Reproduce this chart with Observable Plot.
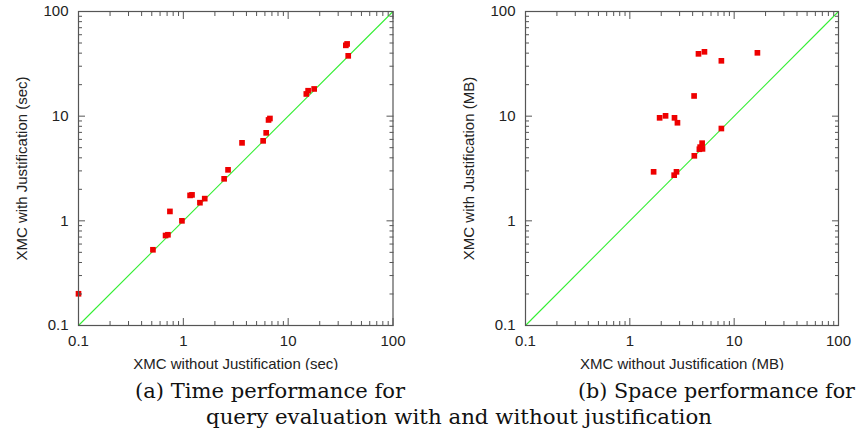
<!DOCTYPE html>
<html><head><meta charset="utf-8">
<script src="https://cdn.jsdelivr.net/npm/d3@7"></script>
<script src="https://cdn.jsdelivr.net/npm/@observablehq/plot@0.6"></script>
<style>
body{margin:0;background:#fff;width:858px;height:432px;position:relative;overflow:hidden}
#a,#b{position:absolute;top:0}
#a{left:0}
#b{left:429px}
.cap{position:absolute;font-family:"DejaVu Serif",serif;font-size:21px;white-space:nowrap;color:#111;line-height:1;transform-origin:0 0}
</style></head><body>
<div id="a"></div><div id="b"></div>
<div class="cap" id="c1" style="left:135px;top:381px">(a) Time performance for</div>
<div class="cap" id="c2" style="left:578px;top:381px">(b) Space performance for</div>
<div class="cap" id="c3" style="left:206px;top:407px">query evaluation with and without justification</div>
<script>
// Time performance (seconds)
const timeX = [0.1, 0.513, 0.677, 0.713, 0.745, 0.97, 1.16, 1.21, 1.44, 1.60, 2.45, 2.67, 3.63, 5.77, 6.17, 6.5, 6.7, 14.9, 15.5, 17.7, 35.5, 36.5, 37.4];
const timeY = [0.201, 0.529, 0.724, 0.736, 1.23, 1.0, 1.75, 1.77, 1.49, 1.63, 2.52, 3.07, 5.56, 5.81, 6.93, 9.2, 9.5, 16.3, 17.5, 18.2, 47.5, 49, 37.7];
// Space performance (MB)
const spaceX = [1.69, 1.93, 2.20, 2.68, 2.86, 2.66, 2.80, 4.13, 4.15, 4.55, 5.19, 4.72, 4.93, 4.97, 4.64, 7.54, 7.54, 16.7];
const spaceY = [2.94, 9.64, 10.07, 9.64, 8.65, 2.73, 2.94, 15.6, 4.18, 39.4, 41.2, 5.06, 5.52, 4.87, 4.83, 33.8, 7.62, 40.3];
// Axes
const domain = [0.1, 100];
const majorTicks = [0.1, 1, 10, 100];
const tickLabels = ["0.1", "1", "10", "100"];
const minorTicks = [0.2,0.3,0.4,0.5,0.6,0.7,0.8,0.9,2,3,4,5,6,7,8,9,20,30,40,50,60,70,80,90];
const diagonal = [0.1, 100];

const GRAY = "#555";
function make(xs, ys, xlabel, ylabel, ml, mr) {
  const data = xs.map((x, i) => ({x, y: ys[i]}));
  const fmt = d => tickLabels[majorTicks.indexOf(d)];
  const ticks = [];
  for (const [list, len] of [[majorTicks, 7], [minorTicks, 4]]) {
    ticks.push(
      Plot.axisX(list, {anchor: "bottom", tickSize: len, dy: -len, text: null, stroke: GRAY, label: null}),
      Plot.axisX(list, {anchor: "top", tickSize: len, dy: len, text: null, stroke: GRAY, label: null}),
      Plot.axisY(list, {anchor: "left", tickSize: len, dx: len, text: null, stroke: GRAY, label: null}),
      Plot.axisY(list, {anchor: "right", tickSize: len, dx: -len, text: null, stroke: GRAY, label: null})
    );
  }
  return Plot.plot({
    width: 429, height: 370,
    marginLeft: ml, marginRight: mr, marginTop: 11, marginBottom: 45,
    x: {type: "log", domain, label: null},
    y: {type: "log", domain, label: null},
    style: {fontFamily: "'Liberation Sans', Arial, sans-serif", fontSize: "14px", color: "#222", background: "#fff"},
    marks: [
      Plot.link([diagonal], {x1: d => d[0], y1: d => d[0], x2: d => d[1], y2: d => d[1], stroke: "#33ee33", strokeWidth: 1.1}),
      Plot.dot(data, {x: "x", y: "y", symbol: "square", r: 3.2, fill: "#ee0000", stroke: null}),
      ...ticks,
      Plot.axisX(majorTicks, {anchor: "bottom", tickSize: 0, tickPadding: 10, tickFormat: fmt, label: xlabel, labelAnchor: "center", labelArrow: "none", labelOffset: 43, fontSize: 14}),
      Plot.axisY(majorTicks, {anchor: "left", tickSize: 0, tickPadding: 10, tickFormat: fmt, label: ylabel, labelAnchor: "center", labelArrow: "none", labelOffset: 62, fontSize: 14}),
      Plot.frame({stroke: GRAY, strokeWidth: 1.2})
    ]
  });
}
document.getElementById("a").append(make(timeX, timeY, "XMC without Justification (sec)", "XMC with Justification (sec)", 78, 36.5));
document.getElementById("b").append(make(spaceX, spaceY, "XMC without Justification (MB)", "XMC with Justification (MB)", 96, 20));
document.querySelectorAll("svg g[aria-label$='label'] text").forEach(t => t.setAttribute("font-size", "15"));
// fit captions to measured widths
[["c1", 270], ["c2", 277], ["c3", 506]].forEach(([id, w]) => {
  const el = document.getElementById(id);
  el.style.transform = `scaleX(${w / el.getBoundingClientRect().width})`;
});
</script>
</body></html>
